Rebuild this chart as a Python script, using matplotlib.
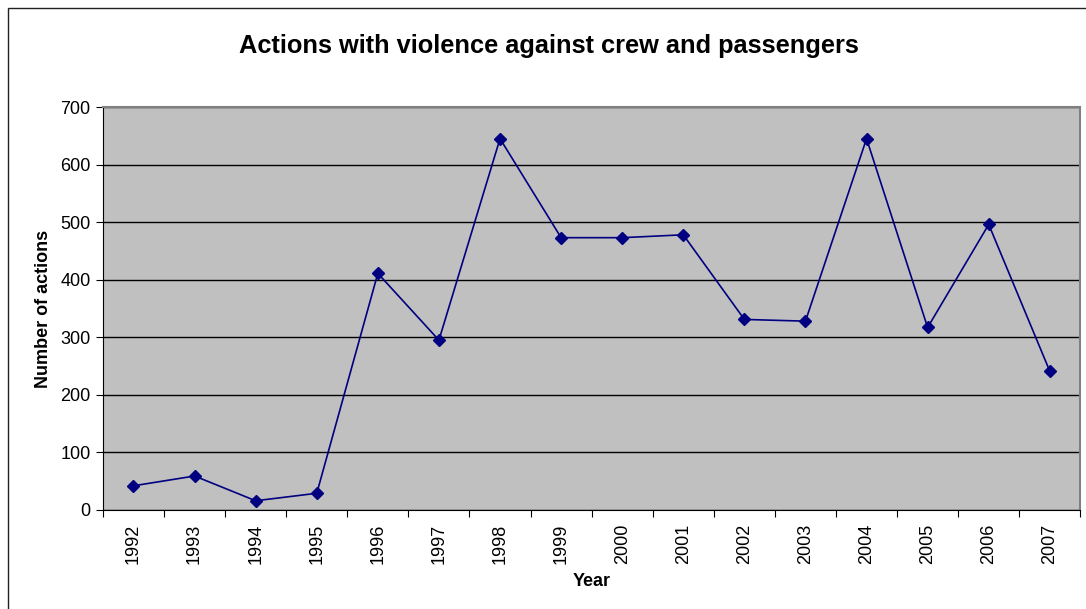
import matplotlib.pyplot as plt
from matplotlib.patches import Rectangle

# Données
years = ["1992", "1993", "1994", "1995", "1996", "1997", "1998", "1999",
         "2000", "2001", "2002", "2003", "2004", "2005", "2006", "2007"]
actions = [42, 59, 16, 29, 411, 295, 645, 473, 473, 478, 331, 328, 645, 317, 496, 241]

plt.rcParams["font.family"] = ["Liberation Sans", "DejaVu Sans"]

fig = plt.figure(figsize=(10.86, 6.09), dpi=100)
ax = fig.add_axes([0.0948, 0.1626, 0.9, 0.6617])

# cadre du graphique
fig.patches.append(Rectangle((8 / 1086, -0.05), 1.2, 1.05 - 8 / 609, transform=fig.transFigure,
                             fill=False, edgecolor="#202020", linewidth=1.0))

ax.set_facecolor("#c0c0c0")
x = range(len(years))
ax.plot(x, actions, color="#000080", linewidth=1.2, marker="D", markersize=6.5,
        markerfacecolor="#000080", markeredgecolor="#000080", zorder=3)

ax.set_xlim(-0.5, len(years) - 0.5)
ax.set_ylim(0, 700)
ax.set_yticks(range(0, 701, 100))
ax.set_xticks([i + 0.5 for i in range(-1, len(years))], minor=False)
ax.set_xticklabels([])
ax.set_xticks(list(x), minor=True)
ax.set_xticklabels(years, minor=True, rotation=90, fontsize=13)
ax.tick_params(axis="x", which="minor", length=0, pad=10)
ax.tick_params(axis="x", which="major", length=5, direction="out")
ax.tick_params(axis="y", labelsize=13, length=5, direction="out", pad=4)
ax.grid(axis="y", color="black", linewidth=1)
ax.set_axisbelow(True)

for side in ["top", "right"]:
    ax.spines[side].set_color("#808080")
    ax.spines[side].set_linewidth(1.5)
ax.spines["left"].set_color("black")
ax.spines["bottom"].set_color("black")

fig.text(549 / 1086, 1 - 46 / 609, "Actions with violence against crew and passengers",
         fontsize=18.3, fontweight="bold", ha="center", va="center")
ax.set_xlabel("Year", fontsize=13, fontweight="bold", labelpad=6)
ax.set_ylabel("Number of actions", fontsize=13, fontweight="bold", labelpad=6)

plt.savefig("out.png", dpi=100)
